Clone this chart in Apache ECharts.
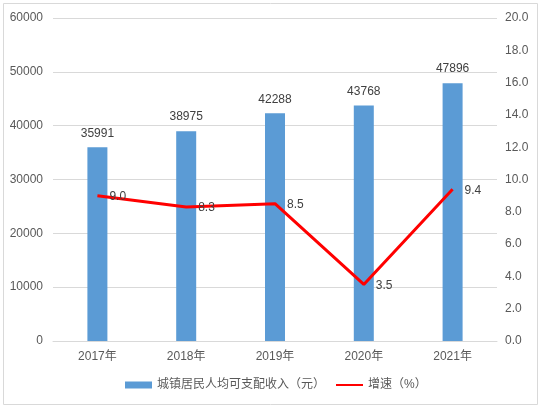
<!DOCTYPE html>
<html>
<head>
<meta charset="utf-8">
<script src="https://cdn.jsdelivr.net/npm/echarts@6/dist/echarts.min.js"></script>
<style>
  html, body { margin: 0; padding: 0; background: #fff; }
  #chart { width: 542px; height: 409px; }
</style>
</head>
<body>
<div id="chart"></div>
<script>
const years = ["2017年", "2018年", "2019年", "2020年", "2021年"];
const income = [35991, 38975, 42288, 43768, 47896];
const growth = [9.0, 8.3, 8.5, 3.5, 9.4];

const font = "'Liberation Sans', 'Noto Sans CJK SC', sans-serif";
const chart = echarts.init(document.getElementById("chart"));

chart.setOption({
  animation: false,
  textStyle: { fontFamily: font },
  graphic: [
    {
      type: "rect",
      shape: { x: 3.5, y: 3.5, width: 534, height: 401 },
      style: { fill: "none", stroke: "#d9d9d9", lineWidth: 1 },
      silent: true,
    },
  ],
  grid: { left: 53, right: 45, top: 18, bottom: 68 },
  legend: {
    bottom: 13,
    left: 120,
    itemGap: 10,
    itemWidth: 27,
    itemHeight: 7,
    textStyle: { color: "#595959", fontSize: 12, fontFamily: font },
    data: [
      { name: "城镇居民人均可支配收入（元）", icon: "rect" },
      { name: "增速（%）", itemStyle: { color: "rgba(0,0,0,0)", borderWidth: 0 } },
    ],
  },
  xAxis: {
    type: "category",
    data: years,
    axisTick: { show: false },
    axisLine: { lineStyle: { color: "#d9d9d9" } },
    axisLabel: { color: "#595959", fontSize: 12, margin: 10 },
  },
  yAxis: [
    {
      type: "value",
      min: 0,
      max: 60000,
      interval: 10000,
      axisLabel: {
        color: "#595959",
        fontSize: 12,
        margin: 10,
        formatter: (v) => String(v),
      },
      splitLine: { lineStyle: { color: "#d9d9d9" } },
    },
    {
      type: "value",
      min: 0,
      max: 20,
      interval: 2,
      axisLabel: {
        color: "#595959",
        fontSize: 12,
        margin: 8,
        formatter: (v) => v.toFixed(1),
      },
      splitLine: { show: false },
    },
  ],
  series: [
    {
      name: "城镇居民人均可支配收入（元）",
      type: "bar",
      data: income,
      barWidth: 20,
      itemStyle: { color: "#5b9bd5" },
      label: {
        show: true,
        position: "top",
        distance: 8,
        color: "#404040",
        fontSize: 12,
      },
    },
    {
      name: "增速（%）",
      type: "line",
      yAxisIndex: 1,
      data: growth,
      symbol: "circle",
      symbolSize: 2,
      showSymbol: true,
      lineStyle: { color: "#ff0000", width: 3 },
      itemStyle: { color: "rgba(0,0,0,0)", borderWidth: 0 },
      label: {
        show: true,
        position: "right",
        distance: 11,
        offset: [0, 1],
        color: "#404040",
        fontSize: 12,
        formatter: (p) => p.value.toFixed(1),
      },
    },
  ],
});
</script>
</body>
</html>
